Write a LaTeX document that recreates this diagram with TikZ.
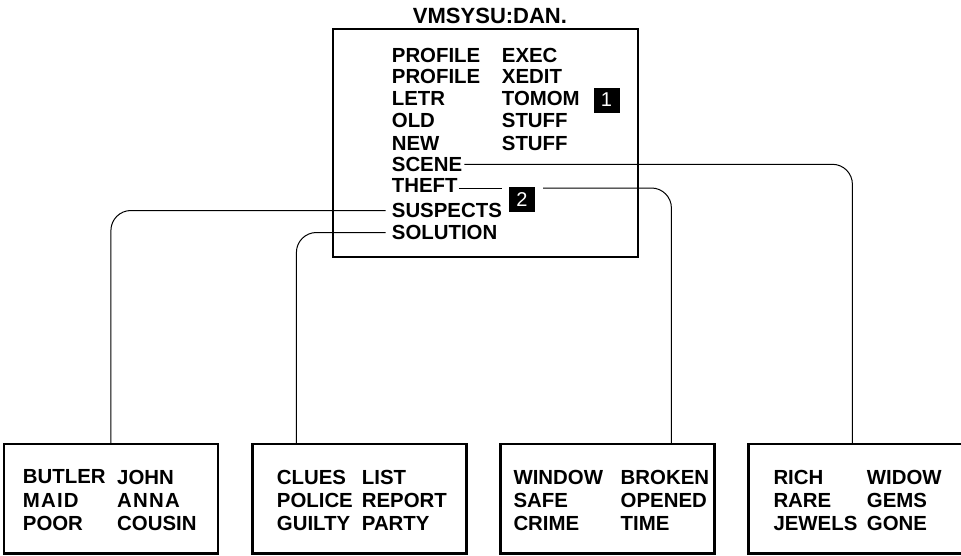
\documentclass[tikz,border=0pt]{standalone}
\usepackage{fontspec}
\setmainfont{Liberation Sans}
\newcommand\lsp{\addfontfeature{LetterSpace=6}}
\begin{document}
\begin{tikzpicture}[x=1pt,y=-1pt,
  txt/.style={font=\bfseries\fontsize{20.4}{22}\selectfont, inner sep=0pt, anchor=west},
  ttl/.style={font=\bfseries\fontsize{22}{24}\selectfont, inner sep=0pt},
  bigbox/.style={draw, line width=2.6pt, minimum width=305pt, minimum height=228pt, inner sep=0pt},
  smallbox/.style={draw, line width=2.2pt, minimum width=214pt, minimum height=109.5pt, inner sep=0pt},
  lbl/.style={fill=black, text=white, font=\fontsize{20}{20}\selectfont, minimum width=26pt, minimum height=25pt, inner sep=0pt},
  conn/.style={draw, line width=1pt, rounded corners=20pt}]
\useasboundingbox (0,0) rectangle (961,555);

% top box and title
\node[bigbox] (top) at (485.5,143) {};
\node[ttl] (title) at (490,15.5) {VMSYSU:DAN.};

\foreach \a/\b/\y [count=\i] in {PROFILE/EXEC/55, PROFILE/XEDIT/76.7, LETR/TOMOM/98.3, OLD/STUFF/120.7, NEW/STUFF/143.3} {
  \node[txt] (ta\i) at (391.7,\y) {\a};
  \node[txt] (tb\i) at (501.7,\y) {\b};
}
\node[txt] (scene) at (391.7,164.3) {SCENE};
\node[txt] (theft) at (391.7,185) {THEFT};
\node[txt] (suspects) at (391.7,210.5) {SUSPECTS};
\node[txt] (solution) at (391.7,232.5) {SOLUTION};

\node[lbl] (l1) at (606.5,100) {1};
\node[lbl] (l2) at (522,199.5) {2};

% bottom boxes
\node[smallbox] (b1) at (111,498.8) {};
\node[smallbox] (b2) at (359.5,498.8) {};
\node[smallbox] (b3) at (607.5,498.8) {};
\node[smallbox] (b4) at (855.5,498.8) {};

\foreach \a/\b [count=\i] in {BUTLER/JOHN, {\lsp MAID}/{\lsp ANNA}, POOR/COUSIN} {
  \node[txt] (b1a\i) at (22.7,{477+23*(\i-1)}) {\a};
  \node[txt] (b1b\i) at (117,{477+23*(\i-1)}) {\b};
}
\foreach \a/\b [count=\i] in {CLUES/LIST, POLICE/REPORT, GUILTY/PARTY} {
  \node[txt] (b2a\i) at (276.7,{477+23*(\i-1)}) {\a};
  \node[txt] (b2b\i) at (361.7,{477+23*(\i-1)}) {\b};
}
\foreach \a/\b [count=\i] in {WINDOW/BROKEN, SAFE/OPENED, CRIME/TIME} {
  \node[txt] (b3a\i) at (513.3,{477+23*(\i-1)}) {\a};
  \node[txt] (b3b\i) at (620.5,{477+23*(\i-1)}) {\b};
}
\foreach \a/\b [count=\i] in {RICH/WIDOW, RARE/GEMS, JEWELS/GONE} {
  \node[txt] (b4a\i) at (773.3,{477+23*(\i-1)}) {\a};
  \node[txt] (b4b\i) at (866.7,{477+23*(\i-1)}) {\b};
}

% connectors
\draw[conn] ([xshift=2pt]scene.east) -| ([xshift=105pt]b4.north west);
\coordinate (t0) at ([xshift=1pt,yshift=-3pt]theft.east);
\path (l2.west |- t0) ++(-7pt,0) coordinate (t1);
\path (l2.east |- t0) ++(8pt,0) coordinate (t2);
\draw[conn] (t0) -- (t1);
\draw[conn] (t2) -| ([xshift=172pt]b3.north west);
\draw[conn] ([xshift=-6pt]suspects.west) -| ([xshift=108pt]b1.north west);
\draw[conn] ([xshift=-6pt]solution.west) -| ([xshift=45pt]b2.north west);
\end{tikzpicture}
\end{document}
